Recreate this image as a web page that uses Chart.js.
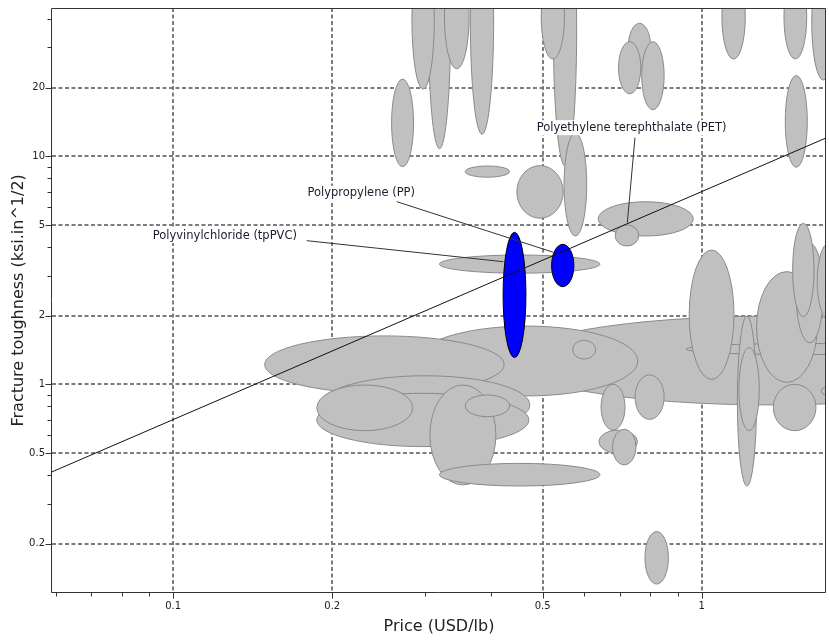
<!DOCTYPE html>
<html>
<head>
<meta charset="utf-8">
<script src="https://cdn.jsdelivr.net/npm/chart.js@4.4.1/dist/chart.umd.min.js"></script>
<style>
  html, body { margin: 0; padding: 0; background: #ffffff; }
  #wrap { width: 829px; height: 641px; }
</style>
</head>
<body>
<div id="wrap"><canvas id="chart" width="829" height="641"></canvas></div>
<script>
// Axis ranges and ticks
const xMin = 0.059, xMax = 1.7185;
const yMin = 0.1219, yMax = 44.7;
const xTickValues = [0.1, 0.2, 0.5, 1];
const xTickLabels = ['0.1', '0.2', '0.5', '1'];
const xMinorTicks = [0.06, 0.07, 0.08, 0.09, 0.3, 0.4, 0.6, 0.7, 0.8, 0.9];
const yTickValues = [0.2, 0.5, 1, 2, 5, 10, 20];
const yTickLabels = ['0.2', '0.5', '1', '2', '5', '10', '20'];
const yMinorTicks = [0.3, 0.4, 0.6, 0.7, 0.8, 0.9, 3, 4, 6, 7, 8, 9, 30, 40];

// Material property envelopes, listed in drawing order (later ones sit on top)
// price in USD/lb, fracture toughness in ksi.in^1/2
const priceLow  = [0.259, 0.304, 0.283, 0.326, 0.365, 0.524, 0.497, 0.549, 0.357, 0.447,
                   0.726, 0.696, 0.770, 1.092, 1.431, 1.615, 1.439,
                   0.637, 0.686, 0.319,
                   0.440, 0.934, 0.288, 0.570, 0.149, 0.190, 0.187, 0.187, 0.306, 0.357, 0.319,
                   0.645, 0.748, 0.639, 0.678, 0.781,
                   0.947, 1.168, 1.176, 1.270, 1.508, 1.486, 1.654, 1.366, 1.681,
                   0.421, 0.520];
const priceHigh = [0.285, 0.335, 0.312, 0.363, 0.404, 0.580, 0.550, 0.606, 0.433, 0.547,
                   0.801, 0.767, 0.849, 1.209, 1.580, 1.787, 1.584,
                   0.964, 0.760, 0.642,
                   4.12, 2.52, 0.757, 0.630, 0.423, 0.473, 0.471, 0.284, 0.408, 0.433, 0.642,
                   0.716, 0.849, 0.756, 0.751, 0.865,
                   1.151, 1.270, 1.285, 1.654, 1.698, 1.631, 1.834, 1.645, 1.850,
                   0.465, 0.573];
const toughLow  = [9.0, 10.8, 19.7, 24.2, 12.5, 9.07, 26.7, 4.47, 8.09, 5.35,
                   23.5, 18.8, 16.0, 26.7, 26.7, 21.6, 8.95,
                   4.47, 4.04, 3.07,
                   0.812, 1.35, 0.889, 1.29, 0.913, 0.605, 0.533, 0.626, 0.362, 0.721, 0.358,
                   0.630, 0.702, 0.498, 0.443, 0.133,
                   1.05, 0.358, 0.626, 1.02, 1.52, 1.98, 1.92, 0.626, 0.889,
                   1.31, 2.68];
const toughHigh = [21.8, 132, 79.5, 69.0, 125, 141, 62.4, 12.65, 9.07, 9.10,
                   38.3, 31.8, 31.8, 62.4, 62.4, 69.7, 22.6,
                   6.32, 5.00, 3.69,
                   1.99, 1.51, 1.80, 1.56, 1.63, 1.09, 0.913, 0.993, 0.993, 0.898, 0.450,
                   1.00, 1.10, 0.630, 0.635, 0.226,
                   3.88, 1.99, 1.45, 3.12, 4.17, 5.08, 4.17, 1.00, 0.983,
                   4.64, 4.11];
const highlighted = priceLow.map((_, i) => i >= priceLow.length - 2);

// Performance guide line (toughness proportional to price)
const guideX = [0.059, 1.7185];
const guideY = [0.413, 12.03];

// Labelled materials: text anchor and leader line ends
const labelText   = ['Polypropylene (PP)', 'Polyvinylchloride (tpPVC)', 'Polyethylene terephthalate (PET)'];
const labelPrice  = [0.1795, 0.0915, 0.4874];
const labelTough  = [6.88, 4.486, 13.35];
const leaderFromX = [0.2649, 0.1790, 0.7477];
const leaderFromY = [6.323, 4.264, 12.07];
const leaderToX   = [0.5239, 0.4214, 0.7233];
const leaderToY   = [3.793, 3.449, 5.115];

const FONT = 'DejaVu Sans';

const ellipsePlugin = {
  id: 'propertyEllipses',
  beforeDatasetsDraw(chart) {
    const { ctx, chartArea: a, scales: { x, y } } = chart;
    ctx.save();
    ctx.beginPath();
    ctx.rect(a.left, a.top, a.right - a.left, a.bottom - a.top);
    ctx.clip();
    for (let i = 0; i < priceLow.length; i++) {
      const x1 = x.getPixelForValue(priceLow[i]);
      const x2 = x.getPixelForValue(priceHigh[i]);
      const y1 = y.getPixelForValue(toughHigh[i]);
      const y2 = y.getPixelForValue(toughLow[i]);
      ctx.beginPath();
      ctx.ellipse((x1 + x2) / 2, (y1 + y2) / 2, Math.abs(x2 - x1) / 2, Math.abs(y2 - y1) / 2, 0, 0, Math.PI * 2);
      ctx.fillStyle = highlighted[i] ? '#0000ff' : '#c0c0c0';
      ctx.fill();
      ctx.lineWidth = 1;
      ctx.strokeStyle = highlighted[i] ? '#000000' : '#8a8a8a';
      ctx.stroke();
    }
    ctx.restore();
  }
};

const labelPlugin = {
  id: 'materialLabels',
  afterDatasetsDraw(chart) {
    const { ctx, scales: { x, y } } = chart;
    ctx.save();
    ctx.font = '11.5px "' + FONT + '"';
    ctx.textBaseline = 'middle';
    ctx.textAlign = 'left';
    for (let i = 0; i < labelText.length; i++) {
      const tx = x.getPixelForValue(labelPrice[i]);
      const ty = y.getPixelForValue(labelTough[i]);
      const w = ctx.measureText(labelText[i]).width;
      ctx.fillStyle = '#ffffff';
      ctx.fillRect(tx - 2, ty - 7.5, w + 4, 15);
      ctx.fillStyle = '#1c1c2e';
      ctx.fillText(labelText[i], tx, ty);
      ctx.beginPath();
      ctx.moveTo(x.getPixelForValue(leaderFromX[i]), y.getPixelForValue(leaderFromY[i]));
      ctx.lineTo(x.getPixelForValue(leaderToX[i]), y.getPixelForValue(leaderToY[i]));
      ctx.lineWidth = 1;
      ctx.strokeStyle = '#333333';
      ctx.stroke();
    }
    ctx.restore();
  }
};

const framePlugin = {
  id: 'frameAndTicks',
  afterDraw(chart) {
    const { ctx, chartArea: a, scales: { x, y } } = chart;
    const L = Math.round(a.left) - 0.5, R = Math.round(a.right) - 0.5;
    const T = Math.round(a.top) + 0.5, B = Math.round(a.bottom) - 0.5;
    ctx.save();
    ctx.lineWidth = 1;
    ctx.strokeStyle = '#333333';
    ctx.beginPath();
    ctx.rect(L, T, R - L, B - T);
    ctx.stroke();
    ctx.beginPath();
    xTickValues.forEach(v => { const px = Math.round(x.getPixelForValue(v)) + 0.5; ctx.moveTo(px, B); ctx.lineTo(px, B + 6); });
    xMinorTicks.forEach(v => { const px = Math.round(x.getPixelForValue(v)) + 0.5; ctx.moveTo(px, B); ctx.lineTo(px, B + 4); });
    yTickValues.forEach(v => { const py = Math.round(y.getPixelForValue(v)) + 0.5; ctx.moveTo(L, py); ctx.lineTo(L - 6, py); });
    yMinorTicks.forEach(v => { const py = Math.round(y.getPixelForValue(v)) + 0.5; ctx.moveTo(L, py); ctx.lineTo(L - 4, py); });
    ctx.stroke();
    ctx.restore();
  }
};

new Chart(document.getElementById('chart'), {
  type: 'scatter',
  data: {
    datasets: [{
      data: guideX.map((v, i) => ({ x: v, y: guideY[i] })),
      showLine: true,
      borderColor: '#111111',
      borderWidth: 1,
      pointRadius: 0,
      pointHoverRadius: 0,
      fill: false
    }]
  },
  options: {
    responsive: false,
    animation: false,
    devicePixelRatio: 1,
    layout: { padding: { top: 8, right: 3, left: 0, bottom: 0 } },
    plugins: { legend: { display: false }, tooltip: { enabled: false } },
    scales: {
      x: {
        type: 'logarithmic',
        min: xMin, max: xMax,
        afterBuildTicks: s => { s.ticks = xTickValues.map(v => ({ value: v })); },
        afterFit: s => { s.height = 48.3; },
        ticks: {
          autoSkip: false, maxRotation: 0, padding: 3, color: '#222222',
          font: { family: FONT, size: 10 },
          callback: (v, i) => xTickLabels[i]
        },
        grid: { color: '#7d7d7d', lineWidth: 2, tickLength: 5, tickColor: 'rgba(0,0,0,0)' },
        border: { display: false, dash: [4, 2.5] },
        title: {
          display: true, text: 'Price (USD/lb)', color: '#222222',
          font: { family: FONT, size: 16 }, padding: { top: 0, bottom: 5 }
        }
      },
      y: {
        type: 'logarithmic',
        min: yMin, max: yMax,
        afterBuildTicks: s => { s.ticks = yTickValues.map(v => ({ value: v })); },
        afterFit: s => { s.width = 52; },
        ticks: {
          autoSkip: false, padding: 2, color: '#222222',
          font: { family: FONT, size: 10 },
          callback: (v, i) => yTickLabels[i]
        },
        grid: { color: '#7d7d7d', lineWidth: 2, tickLength: 5, tickColor: 'rgba(0,0,0,0)' },
        border: { display: false, dash: [4, 2.5] },
        title: {
          display: true, text: 'Fracture toughness (ksi.in^1/2)', color: '#222222',
          font: { family: FONT, size: 16 }, padding: { top: 9, bottom: 0 }
        }
      }
    }
  },
  plugins: [ellipsePlugin, labelPlugin, framePlugin]
});
</script>
</body>
</html>
